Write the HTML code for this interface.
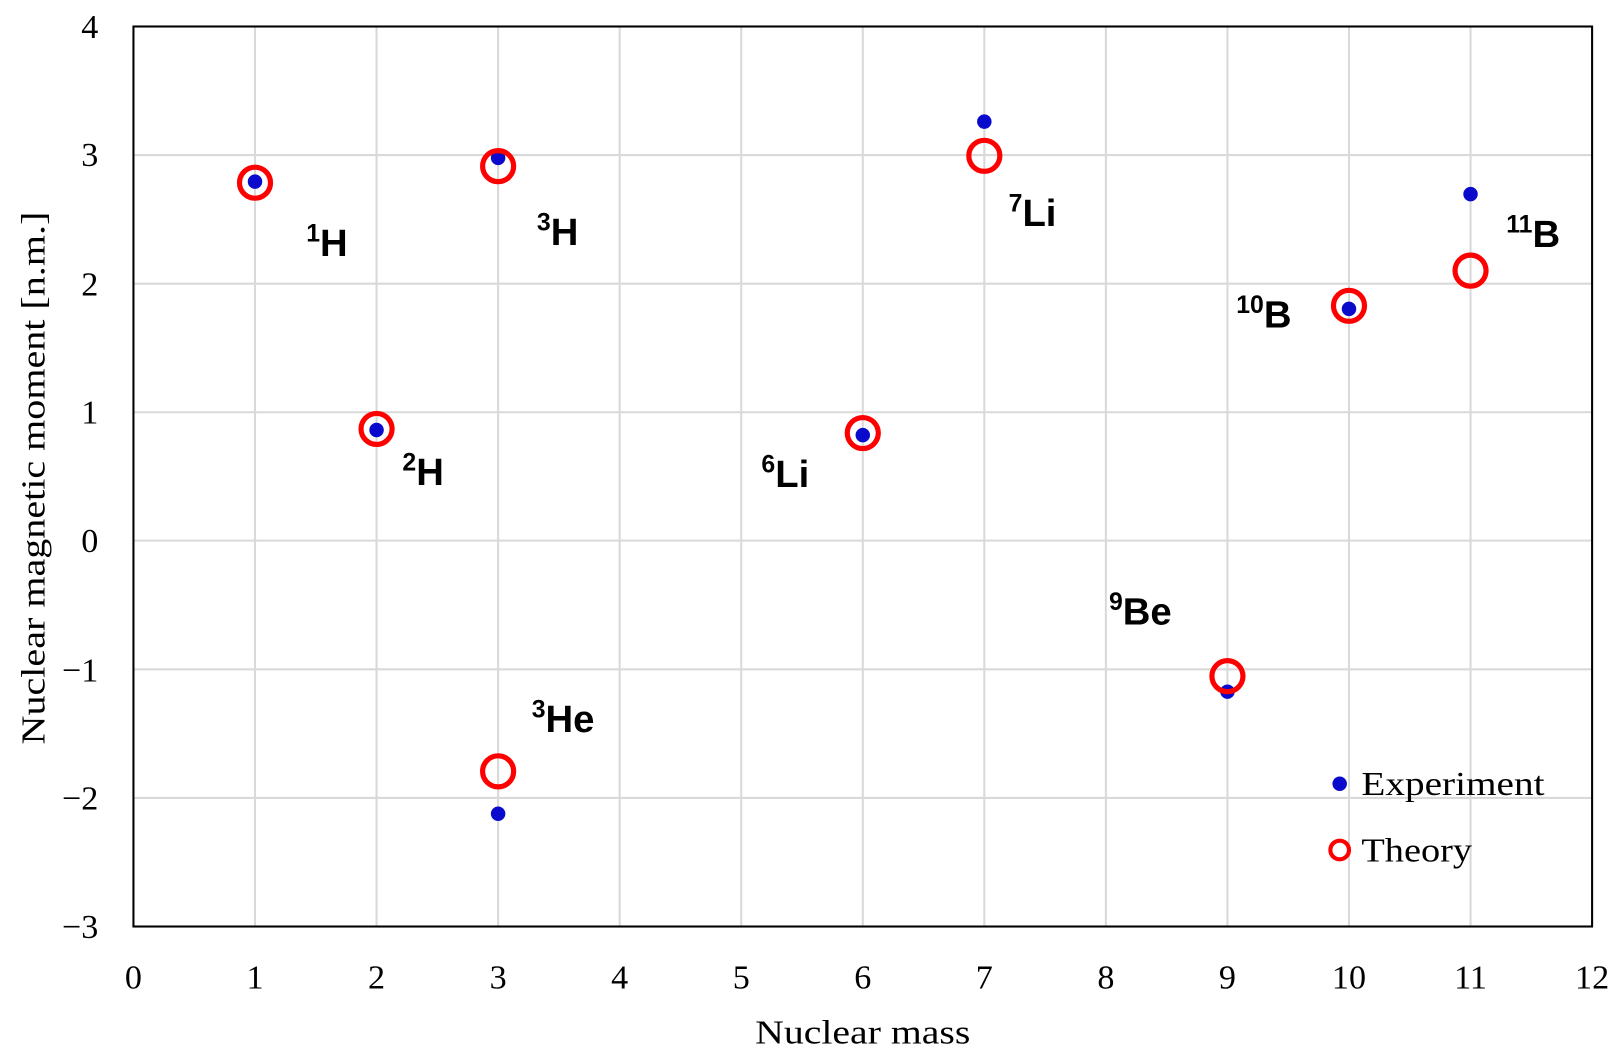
<!DOCTYPE html>
<html><head><style>html,body{margin:0;padding:0;background:#fff;overflow:hidden;width:1621px;height:1056px}svg{display:block}</style></head><body>
<svg width="1621" height="1056" xmlns="http://www.w3.org/2000/svg">
<g transform="translate(0,-0.4) scale(1.0345)">
<g stroke="#d9d9d9" stroke-width="2">
<line x1="246.5" y1="26" x2="246.5" y2="896"/><line x1="364" y1="26" x2="364" y2="896"/><line x1="481.5" y1="26" x2="481.5" y2="896"/><line x1="599" y1="26" x2="599" y2="896"/><line x1="716.5" y1="26" x2="716.5" y2="896"/><line x1="834" y1="26" x2="834" y2="896"/><line x1="951.5" y1="26" x2="951.5" y2="896"/><line x1="1069" y1="26" x2="1069" y2="896"/><line x1="1186.5" y1="26" x2="1186.5" y2="896"/><line x1="1304" y1="26" x2="1304" y2="896"/><line x1="1421.5" y1="26" x2="1421.5" y2="896"/>
<line x1="129" y1="150.3" x2="1539" y2="150.3"/><line x1="129" y1="274.6" x2="1539" y2="274.6"/><line x1="129" y1="398.9" x2="1539" y2="398.9"/><line x1="129" y1="523" x2="1539" y2="523"/><line x1="129" y1="647.4" x2="1539" y2="647.4"/><line x1="129" y1="771.7" x2="1539" y2="771.7"/>
</g>
<rect x="129" y="26" width="1410" height="870" fill="none" stroke="#000" stroke-width="2"/>
<g font-family="Liberation Serif, serif" font-size="33" fill="#000" text-anchor="end">
<text x="95" y="37">4</text><text x="95" y="161">3</text><text x="95" y="286">2</text><text x="95" y="410">1</text><text x="95" y="534">0</text><text x="95" y="659">−1</text><text x="95" y="783">−2</text><text x="95" y="907">−3</text>
</g>
<g font-family="Liberation Serif, serif" font-size="33" fill="#000" text-anchor="middle">
<text x="129" y="956">0</text><text x="246.5" y="956">1</text><text x="364" y="956">2</text><text x="481.5" y="956">3</text><text x="599" y="956">4</text><text x="716.5" y="956">5</text><text x="834" y="956">6</text><text x="951.5" y="956">7</text><text x="1069" y="956">8</text><text x="1186.5" y="956">9</text><text x="1304" y="956">10</text><text x="1421.5" y="956">11</text><text x="1539" y="956">12</text>
</g>
<g font-family="Liberation Serif, serif" font-size="33" fill="#000">
<text x="730" y="1009" textLength="208" lengthAdjust="spacingAndGlyphs">Nuclear mass</text>
<text transform="translate(43,720) rotate(-90)" textLength="515" lengthAdjust="spacingAndGlyphs">Nuclear magnetic moment  [n.m.]</text>
<text x="1316" y="769" textLength="177" lengthAdjust="spacingAndGlyphs">Experiment</text>
<text x="1316" y="833" textLength="107" lengthAdjust="spacingAndGlyphs">Theory</text>
</g>
<g fill="#0a0acc">
<circle cx="246.5" cy="176" r="7"/><circle cx="364" cy="416" r="7"/><circle cx="481.5" cy="153" r="7"/><circle cx="481.5" cy="787" r="7"/><circle cx="834" cy="421" r="7"/><circle cx="951.5" cy="118" r="7"/><circle cx="1186.5" cy="669" r="7"/><circle cx="1304" cy="299" r="7"/><circle cx="1421.5" cy="188" r="7"/><circle cx="1295" cy="758" r="7"/>
</g>
<g fill="none" stroke="#f00" stroke-width="5">
<circle cx="246.5" cy="177" r="15"/><circle cx="364" cy="415" r="15"/><circle cx="481.5" cy="161" r="15"/><circle cx="481.5" cy="746" r="15"/><circle cx="834" cy="419" r="15"/><circle cx="951.5" cy="151" r="15"/><circle cx="1186.5" cy="654" r="15"/><circle cx="1304" cy="296" r="15"/><circle cx="1421.5" cy="262" r="15"/><circle cx="1295" cy="822" r="9" stroke-width="4"/>
</g>
<g font-family="Liberation Sans, sans-serif" font-weight="bold" font-size="37" fill="#000">
<text x="296" y="248"><tspan font-size="24" dy="-14">1</tspan><tspan dy="14">H</tspan></text>
<text x="389" y="469"><tspan font-size="24" dy="-14">2</tspan><tspan dy="14">H</tspan></text>
<text x="519" y="237"><tspan font-size="24" dy="-14">3</tspan><tspan dy="14">H</tspan></text>
<text x="514" y="708"><tspan font-size="24" dy="-14">3</tspan><tspan dy="14">He</tspan></text>
<text x="736" y="471"><tspan font-size="24" dy="-14">6</tspan><tspan dy="14">Li</tspan></text>
<text x="975" y="219"><tspan font-size="24" dy="-14">7</tspan><tspan dy="14">Li</tspan></text>
<text x="1072" y="604"><tspan font-size="24" dy="-14">9</tspan><tspan dy="14">Be</tspan></text>
<text x="1195" y="317"><tspan font-size="24" dy="-14">10</tspan><tspan dy="14">B</tspan></text>
<text x="1456" y="239"><tspan font-size="24" dy="-14">11</tspan><tspan dy="14">B</tspan></text>
</g>
</g>
</svg>
</body></html>
